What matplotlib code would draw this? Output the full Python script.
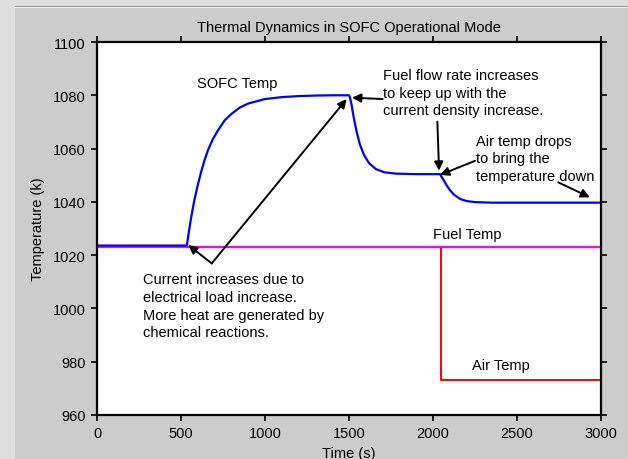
import numpy as np
import matplotlib
matplotlib.use('Agg')
import matplotlib.pyplot as plt
from matplotlib.patches import Rectangle

plt.rcParams['font.family'] = ['Liberation Sans', 'DejaVu Sans']
plt.rcParams['font.size'] = 10.5

# SOFC temperature
sofc_t = [0, 535, 545, 560, 580, 600, 620, 640, 660, 690, 720, 760, 800, 850, 900,
          1000, 1100, 1200, 1300, 1400, 1500, 1505, 1515, 1530, 1545, 1565, 1590,
          1620, 1660, 1710, 1780, 1900, 2042, 2050, 2065, 2080, 2100, 2120, 2140,
          2165, 2200, 2250, 2350, 3000]
sofc_T = [1023.6, 1023.6, 1028.0, 1034.0, 1040.8, 1046.4, 1051.3, 1055.6, 1059.3,
          1063.6, 1066.8, 1070.6, 1073.0, 1075.4, 1076.9, 1078.6, 1079.3, 1079.7,
          1079.9, 1080.0, 1080.0, 1079.3, 1076.5, 1071.0, 1066.5, 1061.5, 1057.5,
          1054.5, 1052.3, 1051.1, 1050.6, 1050.4, 1050.4, 1049.5, 1048.0, 1046.3,
          1044.5, 1043.0, 1042.0, 1041.0, 1040.3, 1039.9, 1039.7, 1039.7]

fuel_t = [0, 3000]
fuel_T = [1023, 1023]

air_t = [0, 2045, 2045, 3000]
air_T = [1023, 1023, 973, 973]

xticks = [0, 500, 1000, 1500, 2000, 2500, 3000]
yticks = [960, 980, 1000, 1020, 1040, 1060, 1080, 1100]

W, H = 628, 460
fig = plt.figure(figsize=(W / 100, H / 100), dpi=100)
fig.patch.set_facecolor('#cccccc')

# light window frame on the left/top
fig.patches.append(Rectangle((0, 0), 15 / W, 1, transform=fig.transFigure,
                             facecolor='#dedede', edgecolor='none', zorder=-10))
fig.patches.append(Rectangle((0, 1 - 7 / H), 1, 7 / H, transform=fig.transFigure,
                             facecolor='#dedede', edgecolor='none', zorder=-10))
fig.patches.append(Rectangle((15 / W, 1 - 8 / H), 1, 1 / H, transform=fig.transFigure,
                             facecolor='#a0a0a0', edgecolor='none', zorder=-9))
fig.patches.append(Rectangle((15 / W, 1 - 9 / H), 1, 1 / H, transform=fig.transFigure,
                             facecolor='#f4f4f4', edgecolor='none', zorder=-9))

ax = fig.add_axes([97 / W, 1 - 416 / H, 504 / W, 373 / H])
ax.set_facecolor('white')

ax.plot(air_t, air_T, color='#ff0000', lw=1.4)
ax.plot(fuel_t, fuel_T, color='#ff00ff', lw=1.6)
ax.plot(sofc_t, sofc_T, color='#0000ff', lw=1.6)

ax.set_xlim(0, 3000)
ax.set_ylim(960, 1100)
ax.set_xticks(xticks)
ax.set_yticks(yticks)
ax.tick_params(direction='out', length=4.5, width=1.2, pad=3.5, colors='black',
               top=True, right=True, labelsize=10.5)
for s in ax.spines.values():
    s.set_linewidth(1.6)
    s.set_color('black')

ax.set_xlabel('Time (s)', labelpad=4)
ax.set_ylabel('Temperature (k)', labelpad=6)
ax.set_title('Thermal Dynamics in SOFC Operational Mode', fontsize=10.5, pad=8)

# labels
ax.text(595, 1084.5, 'SOFC Temp', va='center', ha='left')
ax.text(2000, 1027.9, 'Fuel Temp', va='center', ha='left')
ax.text(2233, 978.8, 'Air Temp', va='center', ha='left')
ax.text(1702, 1081.0, 'Fuel flow rate increases\nto keep up with the\ncurrent density increase.',
        va='center', ha='left', linespacing=1.32)
ax.text(2257, 1056.3, 'Air temp drops\nto bring the\ntemperature down',
        va='center', ha='left', linespacing=1.32)
ax.text(276, 1001.0, 'Current increases due to\nelectrical load increase.\n'
        'More heat are generated by\nchemical reactions.',
        va='center', ha='left', linespacing=1.32)

# arrows (tail, head)
arrows = [((683, 1016.9), (543, 1023.8)),
          ((683, 1016.9), (1486, 1078.6)),
          ((1700, 1078.6), (1518, 1079.1)),
          ((2026, 1070.1), (2036, 1051.7)),
          ((2250, 1055.4), (2042, 1050.1)),
          ((2746, 1047.3), (2934, 1041.7))]
for tail, head in arrows:
    ax.annotate('', xy=head, xytext=tail,
                arrowprops=dict(arrowstyle='-|>', color='black', lw=1.4,
                                shrinkA=0, shrinkB=0, mutation_scale=13))

fig.savefig('out.png', dpi=100, facecolor=fig.get_facecolor())
